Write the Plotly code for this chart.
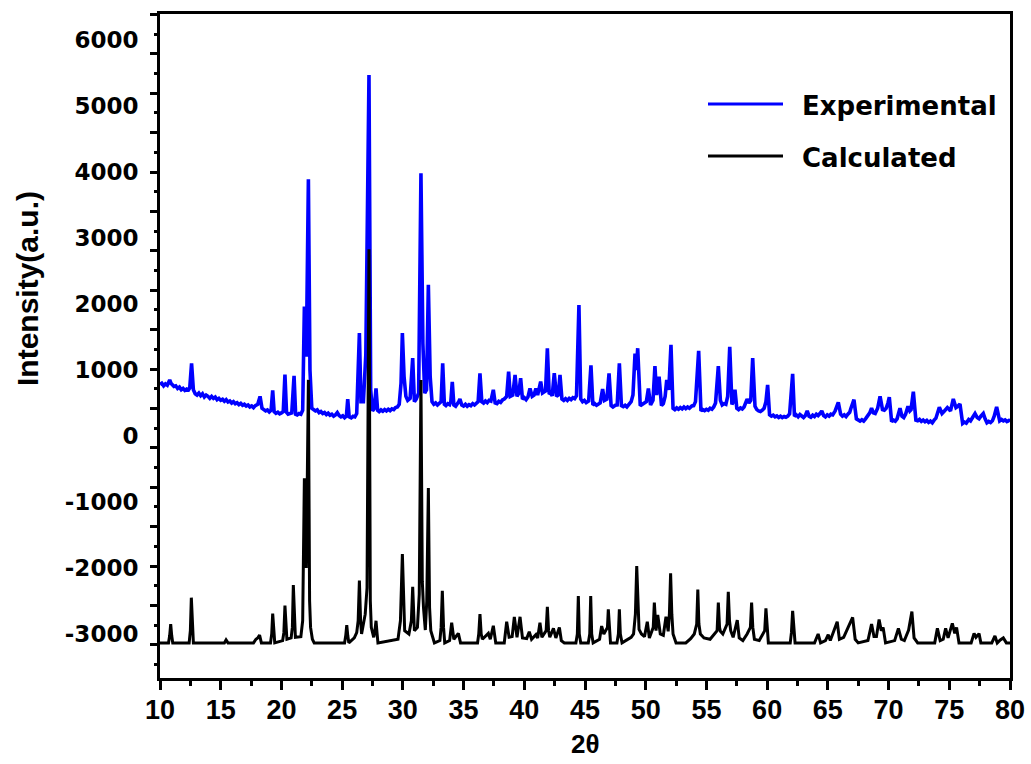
import plotly.graph_objects as go

# ---------------- data ----------------
# Experimental pattern: (2theta, intensity) vertices
exp_points = [
    (10.0, 780), (10.15, 800), (10.3, 760), (10.45, 790), (10.6, 770), (10.7, 820), (10.8, 850), (10.9, 800),
    (11.0, 780), (11.15, 750), (11.3, 760), (11.45, 720), (11.6, 740), (11.75, 700), (11.9, 720), (12.05, 690),
    (12.2, 710), (12.35, 700), (12.45, 730), (12.6, 1100), (12.75, 700), (12.9, 640), (13.05, 620), (13.2, 650),
    (13.35, 610), (13.5, 640), (13.65, 590), (13.8, 620), (13.95, 600), (14.1, 570), (14.25, 600), (14.4, 570),
    (14.55, 590), (14.7, 550), (14.85, 570), (15.0, 540), (15.15, 555), (15.3, 525), (15.45, 550), (15.6, 515),
    (15.75, 530), (15.9, 500), (16.05, 520), (16.2, 490), (16.35, 505), (16.5, 475), (16.65, 495), (16.8, 465),
    (16.95, 480), (17.1, 455), (17.25, 470), (17.4, 440), (17.55, 455), (17.7, 430), (17.85, 460), (18.05, 480),
    (18.24, 600), (18.4, 420), (18.55, 400), (18.7, 380), (18.85, 395), (19.0, 365), (19.15, 390), (19.28, 690),
    (19.4, 370), (19.55, 345), (19.7, 360), (19.85, 335), (20.0, 350), (20.15, 370), (20.29, 930), (20.42, 360),
    (20.55, 330), (20.7, 345), (20.85, 350), (21.04, 910), (21.17, 330), (21.3, 320), (21.45, 340), (21.6, 330),
    (21.75, 390), (21.89, 1960), (22.05, 1200), (22.22, 3890), (22.35, 1000), (22.5, 420), (22.65, 400),
    (22.8, 380), (22.95, 395), (23.1, 355), (23.25, 370), (23.4, 340), (23.55, 355), (23.7, 325), (23.85, 345),
    (24.0, 315), (24.15, 330), (24.3, 300), (24.45, 320), (24.6, 355), (24.75, 310), (24.9, 290), (25.05, 305),
    (25.2, 275), (25.35, 300), (25.46, 560), (25.58, 290), (25.75, 275), (25.9, 300), (26.05, 290), (26.2, 340),
    (26.42, 1560), (26.55, 520), (26.75, 520), (26.95, 1230), (27.21, 5470), (27.35, 700), (27.5, 380),
    (27.65, 420), (27.79, 720), (27.92, 390), (28.05, 370), (28.2, 395), (28.35, 375), (28.5, 400), (28.65, 380),
    (28.8, 405), (28.95, 385), (29.1, 410), (29.25, 400), (29.4, 430), (29.55, 440), (29.7, 480), (29.85, 800),
    (29.96, 1560), (30.1, 900), (30.25, 600), (30.4, 540), (30.6, 570), (30.81, 1180), (30.95, 520), (31.1, 560),
    (31.3, 650), (31.49, 3980), (31.65, 1400), (31.8, 650), (31.95, 700), (32.1, 2290), (32.25, 900), (32.4, 520),
    (32.55, 480), (32.7, 500), (32.85, 470), (33.0, 495), (33.15, 520), (33.28, 1100), (33.42, 480), (33.55, 460),
    (33.7, 490), (33.85, 475), (33.95, 520), (34.07, 820), (34.2, 470), (34.35, 450), (34.5, 480), (34.6, 520),
    (34.7, 560), (34.85, 470), (35.0, 455), (35.15, 480), (35.3, 450), (35.45, 475), (35.6, 460), (35.75, 490),
    (35.9, 470), (36.05, 500), (36.2, 520), (36.35, 950), (36.5, 520), (36.65, 500), (36.8, 530), (36.95, 505),
    (37.1, 540), (37.25, 530), (37.45, 700), (37.6, 500), (37.75, 490), (37.9, 525), (38.05, 510), (38.2, 545),
    (38.35, 560), (38.55, 600), (38.71, 975), (38.85, 600), (39.05, 620), (39.24, 925), (39.4, 600), (39.55, 650),
    (39.7, 875), (39.85, 560), (40.0, 580), (40.15, 550), (40.3, 590), (40.47, 720), (40.65, 600), (40.8, 620),
    (40.96, 720), (41.1, 620), (41.35, 825), (41.5, 650), (41.75, 680), (41.9, 1330), (42.05, 650), (42.2, 640),
    (42.3, 610), (42.47, 950), (42.65, 600), (42.8, 620), (42.94, 925), (43.1, 560), (43.25, 540), (43.4, 565),
    (43.55, 540), (43.7, 570), (43.85, 550), (44.0, 580), (44.15, 565), (44.3, 610), (44.5, 1985), (44.65, 560),
    (44.8, 520), (44.95, 540), (45.1, 505), (45.3, 530), (45.49, 1070), (45.65, 470), (45.8, 490), (45.95, 465),
    (46.1, 480), (46.25, 500), (46.45, 710), (46.6, 540), (46.8, 560), (46.98, 950), (47.15, 460), (47.3, 440),
    (47.5, 465), (47.65, 470), (47.83, 1100), (48.0, 460), (48.15, 445), (48.3, 465), (48.45, 440), (48.6, 470),
    (48.8, 520), (48.95, 620), (49.12, 1250), (49.23, 1000), (49.34, 1330), (49.55, 460), (49.7, 480),
    (49.9, 500), (50.05, 520), (50.22, 720), (50.4, 470), (50.6, 540), (50.76, 1060), (50.9, 620), (51.1, 900),
    (51.3, 460), (51.45, 490), (51.6, 600), (51.73, 850), (51.9, 700), (52.08, 1380), (52.25, 420), (52.4, 400),
    (52.55, 425), (52.7, 405), (52.85, 430), (53.0, 410), (53.15, 440), (53.3, 415), (53.45, 440), (53.6, 420),
    (53.8, 455), (53.95, 460), (54.1, 520), (54.36, 1290), (54.55, 380), (54.7, 400), (54.85, 385), (55.0, 405),
    (55.15, 390), (55.3, 420), (55.45, 405), (55.6, 440), (55.75, 500), (55.98, 1060), (56.15, 540), (56.3, 470),
    (56.45, 490), (56.6, 480), (56.75, 600), (56.92, 1350), (57.1, 480), (57.22, 520), (57.35, 700), (57.5, 420),
    (57.65, 400), (57.8, 425), (57.95, 410), (58.1, 440), (58.35, 560), (58.5, 500), (58.65, 540), (58.81, 1180),
    (59.0, 450), (59.15, 400), (59.3, 380), (59.45, 370), (59.6, 390), (59.75, 420), (59.9, 520), (60.04, 775),
    (60.2, 320), (60.35, 300), (60.5, 315), (60.65, 290), (60.8, 305), (60.95, 280), (61.1, 300), (61.25, 280),
    (61.4, 295), (61.55, 285), (61.7, 300), (61.85, 335), (62.1, 940), (62.25, 300), (62.4, 320), (62.55, 290),
    (62.7, 325), (62.85, 300), (63.0, 280), (63.15, 310), (63.3, 380), (63.45, 300), (63.6, 285), (63.75, 315),
    (63.9, 295), (64.05, 330), (64.2, 310), (64.35, 340), (64.5, 380), (64.65, 310), (64.8, 290), (64.95, 320),
    (65.1, 300), (65.25, 330), (65.4, 320), (65.6, 380), (65.86, 510), (66.05, 330), (66.2, 300), (66.35, 320),
    (66.5, 295), (66.65, 330), (66.8, 360), (66.9, 420), (67.15, 550), (67.35, 260), (67.5, 240), (67.65, 225),
    (67.8, 245), (67.95, 225), (68.1, 260), (68.3, 300), (68.45, 350), (68.6, 420), (68.75, 350), (68.9, 340),
    (69.1, 420), (69.3, 600), (69.5, 400), (69.65, 390), (69.8, 420), (69.95, 500), (70.06, 590), (70.25, 220),
    (70.4, 240), (70.55, 225), (70.7, 260), (70.94, 420), (71.1, 300), (71.25, 280), (71.4, 330), (71.6, 450),
    (71.75, 380), (71.85, 400), (72.04, 670), (72.25, 240), (72.4, 230), (72.55, 250), (72.7, 220), (72.85, 240),
    (73.0, 215), (73.15, 235), (73.3, 205), (73.45, 225), (73.6, 200), (73.75, 240), (73.9, 270), (74.18, 435),
    (74.3, 360), (74.4, 340), (74.6, 380), (74.84, 430), (75.0, 400), (75.1, 380), (75.33, 560), (75.55, 430),
    (75.7, 450), (75.88, 485), (76.1, 190), (76.25, 210), (76.4, 195), (76.6, 250), (76.75, 230), (76.95, 300),
    (77.12, 340), (77.3, 280), (77.45, 260), (77.6, 300), (77.8, 340), (77.95, 260), (78.1, 200), (78.25, 220),
    (78.4, 205), (78.55, 230), (78.7, 300), (78.9, 440), (79.05, 300), (79.15, 230), (79.3, 250), (79.45, 230),
    (79.6, 245), (79.75, 220), (79.9, 235), (80.0, 215),
]
exp_x = [p[0] for p in exp_points]
exp_y = [p[1] for p in exp_points]

B = -3135  # calculated-pattern baseline (offset for display)
calc_points = [
    (10.0, B), (10.7, B), (10.8, -3020), (10.88, -2850), (10.96, -3020), (11.05, B), (12.4, B), (12.5, -2950),
    (12.58, -2450), (12.66, -2950), (12.75, B), (15.3, B), (15.44, -3090), (15.6, B), (17.7, B), (17.9, -3080),
    (18.05, -3060), (18.2, -3015), (18.35, B), (19.1, B), (19.2, -3000), (19.28, -2690), (19.36, -3000),
    (19.45, B), (20.1, -3100), (20.2, -2980), (20.29, -2570), (20.38, -2980), (20.45, -3080), (20.8, -3060),
    (20.9, -2900), (20.98, -2260), (21.07, -2900), (21.15, -3050), (21.6, -3040), (21.75, -2800), (21.89, -640),
    (22.05, -2000), (22.22, 850), (22.32, -2500), (22.4, -2900), (22.55, -3080), (22.7, B), (25.2, B),
    (25.3, -3020), (25.38, -2865), (25.46, -3020), (25.55, B), (26.0, -3060), (26.2, -2980), (26.32, -2800),
    (26.42, -2190), (26.52, -2800), (26.6, -3000), (26.9, -2700), (27.05, -2300), (27.21, 2830), (27.32, -2500),
    (27.4, -2900), (27.6, -3050), (27.7, -2950), (27.79, -2800), (27.88, -3000), (27.95, B), (29.6, -3080),
    (29.8, -2800), (29.96, -1790), (30.08, -2700), (30.15, -2950), (30.5, -3000), (30.7, -2800), (30.81, -2285),
    (30.9, -2800), (30.95, -2950), (31.2, -2900), (31.35, -2400), (31.49, 850), (31.6, -2200), (31.7, -2600),
    (31.85, -2940), (31.97, -2500), (32.1, -790), (32.2, -2600), (32.3, -2950), (32.6, B), (33.05, -3100),
    (33.15, -2900), (33.25, -2345), (33.35, -2900), (33.45, B), (33.85, -3100), (34.02, -2830), (34.2, -3080),
    (34.57, -2990), (34.75, B), (36.15, B), (36.25, -3000), (36.35, -2700), (36.45, -3000), (36.55, -3080),
    (37.04, -2990), (37.2, -3080), (37.45, -2875), (37.65, B), (38.35, B), (38.55, -2815), (38.75, -3050),
    (39.0, -3040), (39.18, -2740), (39.4, -3050), (39.65, -2740), (39.85, -3060), (40.2, -3070), (40.41, -2965),
    (40.6, -3080), (40.96, -3010), (41.1, -3060), (41.29, -2830), (41.45, -3050), (41.8, -2950), (41.9, -2590),
    (42.0, -2950), (42.1, -3050), (42.4, -2915), (42.6, -3060), (42.89, -2900), (43.05, -3100), (43.3, B),
    (44.25, B), (44.37, -3000), (44.45, -2425), (44.53, -3000), (44.65, B), (45.27, B), (45.39, -3000),
    (45.47, -2425), (45.55, -3000), (45.67, B), (46.2, -3080), (46.37, -2880), (46.55, -3000), (46.85, -2900),
    (46.92, -2625), (47.0, -2950), (47.1, B), (47.63, B), (47.75, -3000), (47.83, -2625), (47.91, -3000),
    (48.05, B), (48.8, -3050), (49.0, -3000), (49.15, -2700), (49.26, -1970), (49.36, -2700), (49.45, -2930),
    (49.65, -3000), (49.9, -3040), (50.13, -2815), (50.3, -3060), (50.62, -2900), (50.71, -2525), (50.85, -2950),
    (50.99, -2710), (51.2, -3000), (51.45, -3020), (51.67, -2740), (51.85, -2960), (51.95, -2700), (52.05, -2080),
    (52.15, -2700), (52.25, -3000), (52.5, B), (53.3, B), (53.7, -3070), (54.0, -3000), (54.2, -2850),
    (54.29, -2325), (54.38, -2850), (54.5, -3000), (54.8, -3060), (55.3, -3080), (55.88, -2950), (55.98, -2525),
    (56.08, -2900), (56.15, -2960), (56.35, -3000), (56.7, -2850), (56.8, -2360), (56.9, -2800), (57.0, -2950),
    (57.2, -3050), (57.54, -2790), (57.7, -3060), (58.0, -3100), (58.35, -3000), (58.62, -2900), (58.72, -2525),
    (58.82, -2900), (58.95, -3080), (59.35, -3100), (59.8, -2950), (59.9, -2610), (60.0, -2950), (60.1, B),
    (61.9, B), (62.0, -2980), (62.1, -2650), (62.2, -2980), (62.3, B), (63.9, B), (64.2, -3000), (64.4, B),
    (64.8, -3100), (65.03, -3010), (65.2, -3100), (65.77, -2815), (65.95, -3080), (66.3, -3050), (67.04, -2750),
    (67.25, -3080), (67.5, B), (68.3, -3100), (68.6, -2850), (68.8, -3040), (69.0, -3040), (69.22, -2780),
    (69.4, -2950), (69.55, -2900), (69.75, B), (70.5, -3100), (70.81, -2915), (71.05, -3080), (71.3, -3100),
    (71.65, -2940), (71.92, -2660), (72.1, -3060), (72.4, B), (73.8, B), (74.02, -2915), (74.25, -3100),
    (74.5, -3080), (74.7, -2915), (74.9, -3060), (75.25, -2840), (75.45, -2990), (75.6, -2900), (75.8, B),
    (76.8, B), (77.04, -2990), (77.2, -3050), (77.45, -2995), (77.6, B), (78.5, B), (78.76, -3030), (78.95, B),
    (79.2, -3090), (79.45, -3060), (79.7, B), (80.0, B),
]
calc_x = [p[0] for p in calc_points]
calc_y = [p[1] for p in calc_points]

x_major = [10, 15, 20, 25, 30, 35, 40, 45, 50, 55, 60, 65, 70, 75, 80]
x_minor = [12.5, 17.5, 22.5, 27.5, 32.5, 37.5, 42.5, 47.5, 52.5, 57.5, 62.5, 67.5, 72.5, 77.5]
y_labels = [-3000, -2000, -1000, 0, 1000, 2000, 3000, 4000, 5000, 6000]
y_label_text = ["-3000", "-2000", "-1000", "0", "1000", "2000", "3000", "4000", "5000", "6000"]
series_names = ["Experimental", "Calculated"]
series_colors = ["#0000FF", "#000000"]

# ---------------- layout geometry ----------------
W, H = 1031, 764
L, R, T, Bm = 160, 21, 14, 86
Y_RANGE = [-3667, 6394]
X_RANGE = [10, 80]
PW, PH = W - L - R, H - T - Bm

# y tick marks of the picture (they do not line up with the labels): one every ~298.5 units
tick_vals = [Y_RANGE[1] - 6 - 298.5 * k for k in range(34)]
y_tick_major = tick_vals[0::2]
y_tick_minor = tick_vals[1::2]

fig = go.Figure()
fig.add_trace(go.Scatter(x=exp_x, y=exp_y, mode="lines", name=series_names[0],
                         line=dict(color=series_colors[0], width=3.6), showlegend=False))
fig.add_trace(go.Scatter(x=calc_x, y=calc_y, mode="lines", name=series_names[1],
                         line=dict(color=series_colors[1], width=3), showlegend=False))
fig.add_trace(go.Scatter(x=[None], y=[None], yaxis="y2", showlegend=False, hoverinfo="skip"))

fig.update_layout(
    width=W, height=H,
    margin=dict(l=L, r=R, t=T, b=Bm, autoexpand=False),
    paper_bgcolor="white", plot_bgcolor="white",
    showlegend=False,
    xaxis=dict(range=X_RANGE, showgrid=False, zeroline=False, automargin=False,
               showline=True, linewidth=3, linecolor="black", mirror=True,
               tickmode="array", tickvals=x_major, ticks="outside", ticklen=9, tickwidth=3,
               tickcolor="black", ticklabelstandoff=-3,
               minor=dict(tickmode="array", tickvals=x_minor, ticks="outside", ticklen=5,
                          tickwidth=3, tickcolor="black"),
               tickfont=dict(family="Liberation Sans", size=27, color="black", weight="bold")),
    yaxis=dict(range=Y_RANGE, showgrid=False, zeroline=False, automargin=False,
               showline=True, linewidth=3, linecolor="black", mirror=True,
               tickmode="array", tickvals=y_labels, ticktext=y_label_text,
               ticks="outside", ticklen=14, tickcolor="rgba(0,0,0,0)",
               tickfont=dict(family="DejaVu Sans", size=23, color="black", weight="bold")),
    yaxis2=dict(range=Y_RANGE, overlaying="y", side="left", showgrid=False, zeroline=False,
                automargin=False, showline=False, showticklabels=False,
                tickmode="array", tickvals=y_tick_major, ticks="outside", ticklen=9, tickwidth=3,
                tickcolor="black",
                minor=dict(tickmode="array", tickvals=y_tick_minor, ticks="outside", ticklen=5,
                           tickwidth=3, tickcolor="black")),
)


def px_to_paper(px, py):
    return (px - L) / PW, (H - Bm - py) / PH


# axis titles
tx, ty = px_to_paper(585, 744)
fig.add_annotation(xref="paper", yref="paper", x=tx, y=ty, text="2θ", showarrow=False,
                   xanchor="center", yanchor="middle",
                   font=dict(family="Liberation Sans", size=26, color="black", weight="bold"))
tx, ty = px_to_paper(27, 289)
fig.add_annotation(xref="paper", yref="paper", x=tx, y=ty, text="Intensity(a.u.)", showarrow=False,
                   textangle=-90, xanchor="center", yanchor="middle",
                   font=dict(family="Liberation Sans", size=30, color="black", weight="bold"))

# manual legend (long line samples as in the original)
leg_rows = [104, 156]
for name, color, py in zip(series_names, series_colors, leg_rows):
    x0, y0 = px_to_paper(708, py)
    x1, _ = px_to_paper(783, py)
    fig.add_shape(type="line", xref="paper", yref="paper", x0=x0, x1=x1, y0=y0, y1=y0,
                  line=dict(color=color, width=3))
    tx, ty = px_to_paper(800, py + 2)
    fig.add_annotation(xref="paper", yref="paper", x=tx, y=ty, text=name, showarrow=False,
                       xanchor="left", yanchor="middle",
                       font=dict(family="DejaVu Sans", size=26, color="black", weight="bold"))

# remove the default page margin so the figure sits at the window's top-left corner
fig.write_html("out.html", config={"displayModeBar": False},
               post_script="document.body.style.margin='0';document.body.style.overflow='hidden';")
